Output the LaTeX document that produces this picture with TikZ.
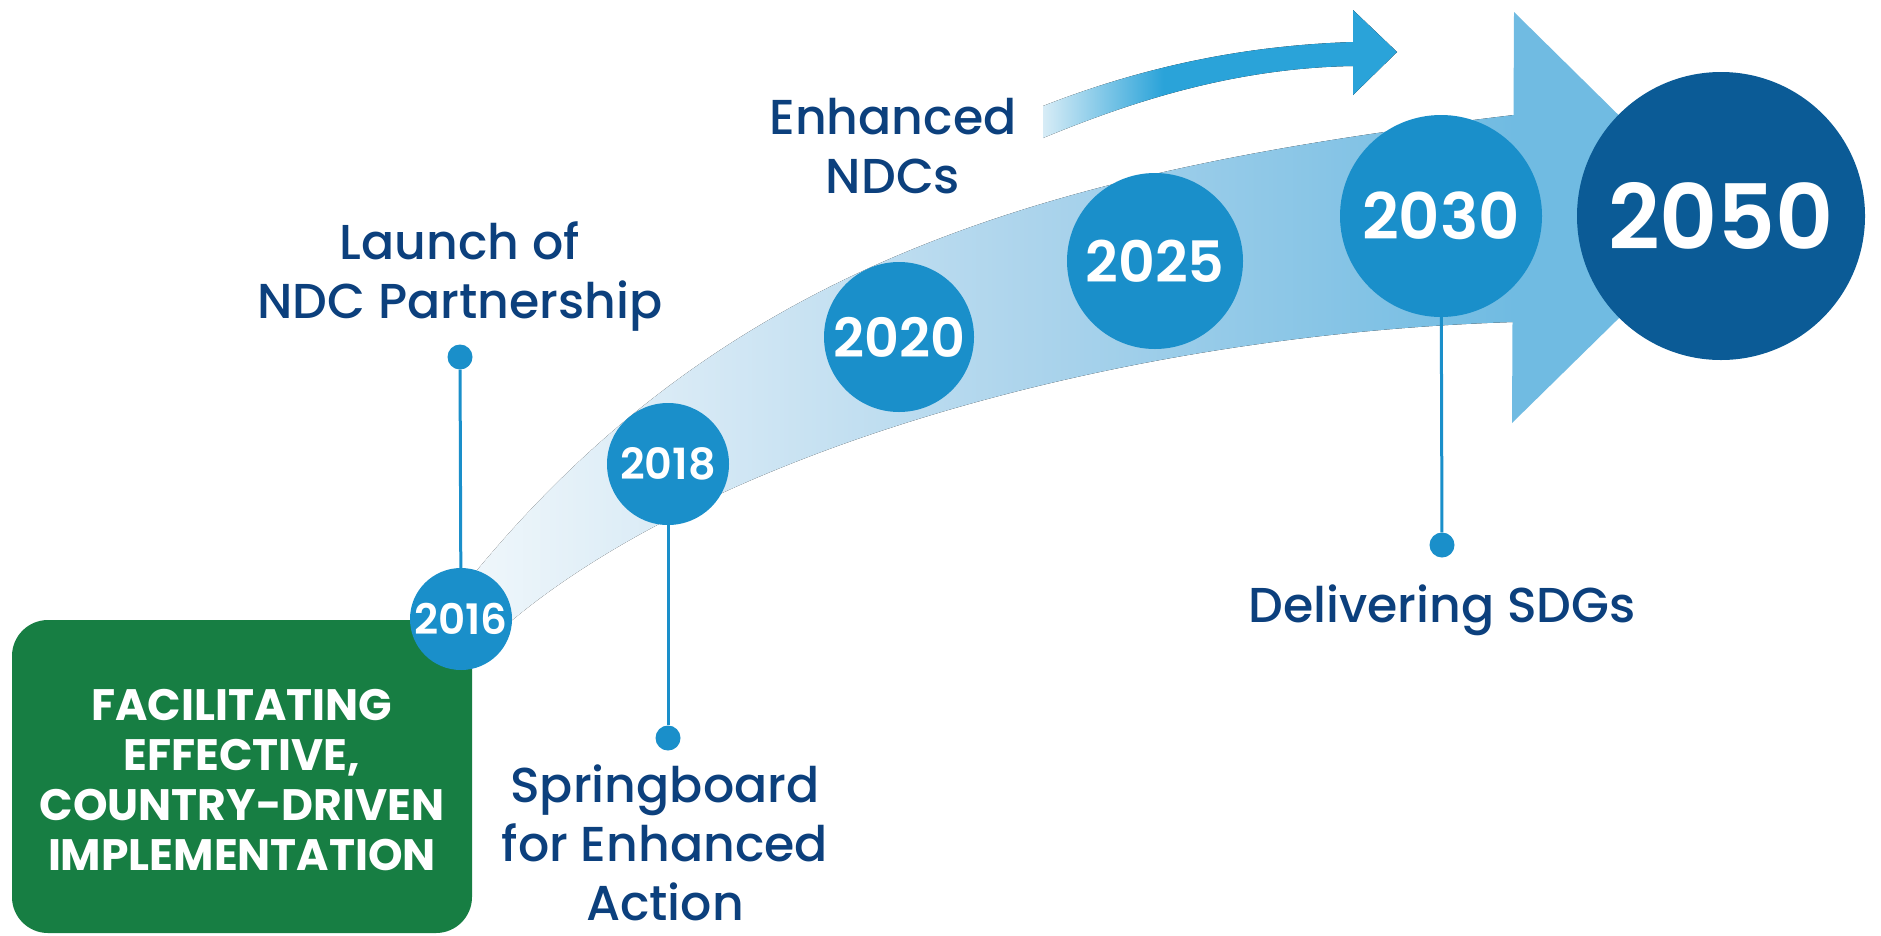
\documentclass[tikz,border=0pt]{standalone}
\usepackage{fontspec}
\setmainfont{Poppins}
\newfontfamily\medf{Poppins Medium}
\newfontfamily\semif{Poppins SemiBold}
\definecolor{cblue}{RGB}{26,143,202}
\definecolor{cdark}{RGB}{11,91,150}
\definecolor{navy}{RGB}{12,64,125}
\definecolor{cgreen}{RGB}{23,126,67}
\definecolor{sarrow}{RGB}{42,163,217}
\definecolor{sarrowpale}{RGB}{215,236,246}
\definecolor{headblue}{RGB}{112,187,226}
\definecolor{bandW}{RGB}{240,247,251}
\definecolor{bandA}{RGB}{214,233,245}
\definecolor{bandB}{RGB}{172,212,236}
\pgfdeclarehorizontalshading{bandshade}{100bp}{color(0bp)=(bandW); color(25bp)=(bandW); color(36bp)=(bandA); color(52bp)=(bandB); color(75bp)=(headblue); color(100bp)=(headblue)}
\pgfdeclarehorizontalshading{smallshade}{100bp}{color(0bp)=(sarrowpale); color(25bp)=(sarrowpale); color(42bp)=(sarrow); color(100bp)=(sarrow)}
\begin{document}
\begin{tikzpicture}[x=1pt,y=-1pt,
  yr/.style={circle, fill=cblue, text=white, inner sep=0pt, minimum size=#1},
  lab/.style={font=\medf\fontsize{49}{59}\selectfont, text=navy, align=center, inner sep=0pt, anchor=base},
  dotn/.style={circle, fill=cblue, inner sep=0pt, minimum size=25},
  conn/.style={draw=cblue, line width=3}]
\useasboundingbox (0,0) rectangle (1881,935);
\fill[white] (0,0) rectangle (1881,935);
% big curved arrow
\fill[shading=bandshade] (465,585) .. controls (730,255) and (1062,169) .. (1514,115) -- (1514,322) .. controls (1100,335) and (690,460) .. (495,635) -- cycle;
\fill[headblue] (1514,12) -- (1722,217) -- (1512,423) -- cycle;
% small arrow
\fill[shading=smallshade] (1043,106) .. controls (1130,72) and (1230,46) .. (1353,42) -- (1353,10) -- (1397,52) -- (1353,95) -- (1353,66) .. controls (1240,68) and (1140,98) .. (1043,138) -- cycle;
% green box
\node[fill=cgreen, rounded corners=36, minimum width=460, minimum height=313, inner sep=0pt] (goal) at (242,776.5) {};
\node[font=\bfseries\fontsize{44}{50}\selectfont, text=white, align=center, inner sep=0pt] (goaltext) at (242,780) {FACILITATING\\EFFECTIVE,\\COUNTRY-DRIVEN\\IMPLEMENTATION};
% year circles
\node[yr=102, font=\semif\fontsize{42}{42}\selectfont] (c2016) at (461,619) {2016};
\node[yr=122, font=\semif\fontsize{43}{43}\selectfont] (c2018) at (668,464) {2018};
\node[yr=150, font=\semif\fontsize{54}{54}\selectfont] (c2020) at (899,337) {2020};
\node[yr=176, font=\semif\fontsize{57}{57}\selectfont] (c2025) at (1155,261) {2025};
\node[yr=202, font=\semif\fontsize{64}{64}\selectfont] (c2030) at (1441,216) {2030};
\node[yr=288, fill=cdark, font=\semif\fontsize{90}{90}\selectfont] (c2050) at (1721,216) {2050};
% connectors and dots
\node[dotn] (d16) at (460,357) {};
\node[dotn] (d18) at (668,738) {};
\node[dotn] (d30) at (1442,545) {};
\draw[conn] (d16) -- (c2016);
\draw[conn] (c2018) -- (d18);
\draw[conn] (c2030) -- (d30);
% labels
\node[lab] (launch) at (460,318) {Launch of\\NDC Partnership};
\node[lab] (spring) at (665,920) {Springboard\\for Enhanced\\Action};
\node[lab] (enh) at (893,193) {Enhanced\\NDCs};
\node[lab] (sdg) at (1442,622) {Delivering SDGs};
\end{tikzpicture}
\end{document}
